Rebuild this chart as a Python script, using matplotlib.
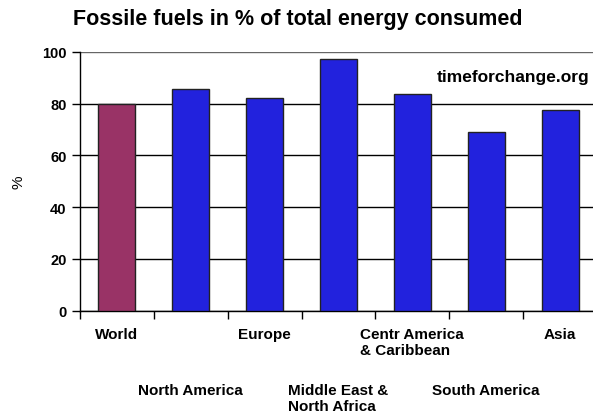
import numpy as np
import matplotlib.pyplot as plt

plt.rcParams['font.family'] = ['Liberation Sans', 'DejaVu Sans']

regions = ['World', 'North America', 'Europe', 'Middle East &\nNorth Africa',
           'Centr America\n& Caribbean', 'South America', 'Asia']
fossil_pct = [80, 85.5, 82, 97, 83.5, 69, 77.5]
bar_colors = ['#993366'] + ['#2222DD'] * 6
y_ticks = [0, 20, 40, 60, 80, 100]

fig = plt.figure(figsize=(5.93, 4.14), dpi=100)
ax = fig.add_axes([80 / 593, 1 - 311.7 / 414, 517 / 593, (311.7 - 52.7) / 414])

x = np.arange(len(regions))
ax.bar(x, fossil_pct, width=0.5, color=bar_colors, edgecolor='#222222', linewidth=1, zorder=3)

ax.set_xlim(-0.5, len(regions) - 0.5)
ax.set_ylim(0, 100)
ax.set_yticks(y_ticks)
ax.set_yticklabels([str(v) for v in y_ticks], fontsize=10.5, fontweight='bold')
ax.set_xticks(np.arange(len(regions) + 1) - 0.5)
ax.set_xticklabels([])
ax.tick_params(axis='both', direction='out', length=5.8, width=1, color='black')
ax.tick_params(axis='y', pad=4)

ax.yaxis.grid(True, color='black', linewidth=1)
ax.set_axisbelow(True)
ax.get_ygridlines()[-1].set_color('#666666')
for side in ['top', 'right']:
    ax.spines[side].set_visible(False)
ax.spines['left'].set_linewidth(1)
ax.spines['bottom'].set_linewidth(1)

# category labels, alternating on two rows
for i, name in enumerate(regions):
    off = -16 if i % 2 == 0 else -72
    ax.annotate(name, xy=(i, 0), xycoords=('data', 'axes fraction'),
                xytext=(0, off), textcoords='offset pixels',
                ha='center', va='top', multialignment='left',
                fontsize=11, fontweight='bold', linespacing=1.25,
                annotation_clip=False)

ax.set_ylabel('%', fontsize=11, labelpad=12)
ax.text(0.985, 0.905, 'timeforchange.org', transform=ax.transAxes,
        ha='right', va='center', fontsize=12.5, fontweight='bold')

fig.text(73 / 593, 1 - 20 / 414, 'Fossile fuels in % of total energy consumed',
         ha='left', va='center', fontsize=15.5, fontweight='bold')

fig.savefig('out.png', dpi=100)
